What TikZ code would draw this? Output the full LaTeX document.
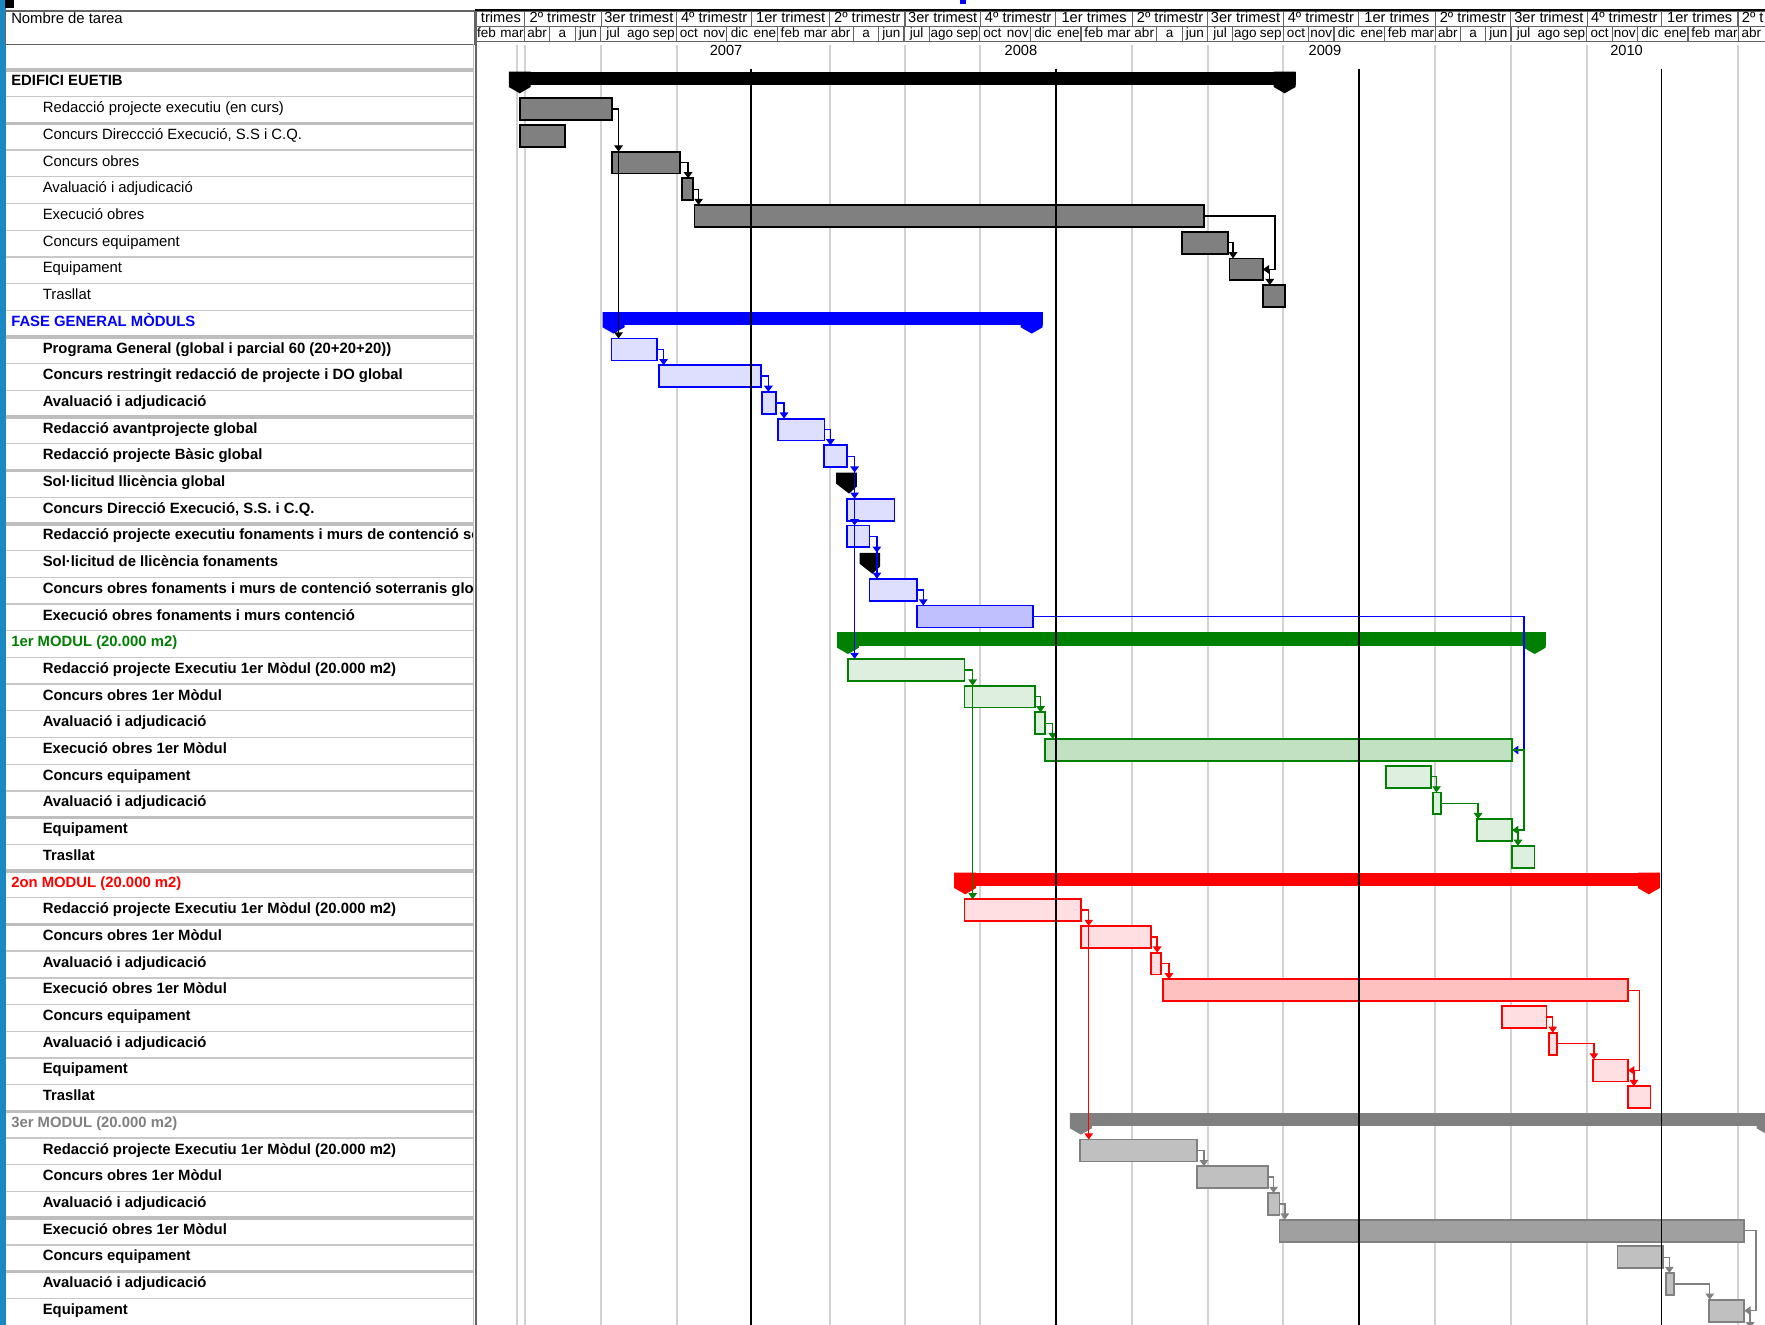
\documentclass[tikz,border=0pt]{standalone}
\usepackage{fontspec}
\setmainfont{Liberation Sans}
\usetikzlibrary{arrows.meta}
\definecolor{stripblue}{RGB}{26,136,194}
\definecolor{gridgray}{RGB}{210,210,210}
\definecolor{rowgray}{RGB}{200,200,200}
\definecolor{rowgraydk}{RGB}{190,190,190}
\definecolor{hdrgray}{RGB}{100,100,100}
\definecolor{cblue}{RGB}{0,0,255}
\definecolor{cgreen}{RGB}{0,128,0}
\definecolor{cred}{RGB}{255,0,0}
\definecolor{cgray}{RGB}{128,128,128}
\definecolor{fblue}{RGB}{222,222,255}
\definecolor{fbluedk}{RGB}{192,192,255}
\definecolor{fgreen}{RGB}{223,239,223}
\definecolor{fgreendk}{RGB}{194,224,194}
\definecolor{fred}{RGB}{255,223,226}
\definecolor{freddk}{RGB}{255,192,192}
\definecolor{fgray}{RGB}{192,192,192}
\definecolor{fgraydk}{RGB}{160,160,160}
\definecolor{fedif}{RGB}{128,128,128}
\tikzset{
  tbar/.style={draw,line width=1.6pt,inner sep=0pt,outer sep=0pt,minimum height=19.5pt},
  be/.style={fill=fedif,draw=black},
  bb/.style={fill=fblue,draw=cblue}, bbd/.style={fill=fbluedk,draw=cblue},
  bg/.style={fill=fgreen,draw=cgreen}, bgd/.style={fill=fgreendk,draw=cgreen},
  br/.style={fill=fred,draw=cred}, brd/.style={fill=freddk,draw=cred},
  bh/.style={fill=fgray,draw=cgray}, bhd/.style={fill=fgraydk,draw=cgray},
  lnk/.style={line width=1.3pt,-{Triangle[width=7.5pt,length=5.5pt]}},
  ttxt/.style={anchor=west,inner sep=0pt,outer sep=0pt,font=\fontsize{13.2}{15}\selectfont,text height=9.4pt,text depth=2.8pt},
  btxt/.style={ttxt,font=\fontsize{13.2}{15}\selectfont\bfseries},
  gtxt/.style={btxt},
  qtxt/.style={inner sep=0pt,outer sep=0pt,font=\fontsize{13}{15}\selectfont,text height=9pt,text depth=2.6pt},
  mtxt/.style={inner sep=0pt,outer sep=0pt,font=\fontsize{12}{14}\selectfont,text height=8.5pt,text depth=2.4pt},
  hdrline/.style={hdrgray,line width=1pt},
}
\newcommand\taskbar[5]{\node[tbar,#5,minimum width={(#3-#2)*1pt},anchor=west] (#1) at (#2,{73.3+23.72*#4}) {};}
\newcommand\sumbar[5]{%
  \pgfmathsetmacro\ycc{73.3+23.72*#4}%
  \node[fill=#5,inner sep=0pt,outer sep=0pt,minimum width={(#3-#2)*1pt},minimum height=11.8pt,anchor=north west] (#1) at (#2,{\ycc-9.6}) {};
  \fill[#5] (#2,{\ycc-9.6}) -- ++(19.5,0) -- ++(0,13.6) -- ++(-9.75,5.6) -- ++(-9.75,-5.6) -- cycle;
  \fill[#5] (#3,{\ycc-9.6}) -- ++(-19.5,0) -- ++(0,13.6) -- ++(9.75,5.6) -- ++(9.75,-5.6) -- cycle;}
\newcommand\milestone[4]{%
  \pgfmathsetmacro\ycc{73.3+23.72*#4}%
  \fill[black] (#2,{\ycc-9.2}) -- (#3,{\ycc-9.2}) -- (#3,{\ycc+3}) -- ({#2+0.62*(#3-#2)},{\ycc+9.4}) -- (#2,{\ycc+0.5}) -- cycle;
  \coordinate (#1) at ({(#2+#3)/2},{\ycc-9.2});}
\newcommand\fslink[4]{\draw[lnk,#1] (#2.east) -- ++(#4,0) coordinate (tmp) -- (tmp |- #3.north);}
\newcommand\fflink[4]{\draw[lnk,#1] (#2.east) -- ++(#4,0) coordinate (tmp) -- (tmp |- #3.east) -- (#3.east);}
\newcommand\rowtext[4]{\node[#3] (t#1) at (#2,{73.1+23.72*#1}) {#4};}
\begin{document}
\begin{tikzpicture}[x=1pt,y=-1pt]
\useasboundingbox (0,0) rectangle (1568,1177);
\clip (0,0) rectangle (1568,1177);
\fill[white] (0,0) rectangle (1568,1177);
\fill[stripblue] (0,0) rectangle (5,1177);
\fill[black] (4,0) rectangle (12,7.5);
\fill[cblue] (853,0) rectangle (858,3.5);

% ---------- task table ----------
\foreach \k in {0,...,46} \draw[rowgray,line width=1.2pt] (5,{62.2+23.72*\k}) -- (421,{62.2+23.72*\k});
\foreach \k in {0,2,10,13,15,17,28,30,32,39,43,45} \draw[rowgraydk,line width=3pt] (5,{62.2+23.72*\k}) -- (421,{62.2+23.72*\k});
\draw[hdrgray,line width=1.3pt] (5,9.8) rectangle (421.5,39.4);
\node[ttxt] (hdrname) at (10,17.8) {Nombre de tarea};
\draw[rowgraydk,line width=1pt] (420.3,39.4) -- (420.3,1177);
\draw[hdrgray,line width=1.6pt] (422.6,8) -- (422.6,1177);

\begin{scope}
\clip (5,40) rectangle (420,1177);
\rowtext{0}{10}{gtxt}{EDIFICI EUETIB}
\rowtext{1}{38}{ttxt}{Redacció projecte executiu (en curs)}
\rowtext{2}{38}{ttxt}{Concurs Direccció Execució, S.S i C.Q.}
\rowtext{3}{38}{ttxt}{Concurs obres}
\rowtext{4}{38}{ttxt}{Avaluació i adjudicació}
\rowtext{5}{38}{ttxt}{Execució obres}
\rowtext{6}{38}{ttxt}{Concurs equipament}
\rowtext{7}{38}{ttxt}{Equipament}
\rowtext{8}{38}{ttxt}{Trasllat}
\rowtext{9}{10}{gtxt,text=cblue}{FASE GENERAL MÒDULS}
\rowtext{10}{38}{btxt}{Programa General (global i parcial 60 (20+20+20))}
\rowtext{11}{38}{btxt}{Concurs restringit redacció de projecte i DO global}
\rowtext{12}{38}{btxt}{Avaluació i adjudicació}
\rowtext{13}{38}{btxt}{Redacció avantprojecte global}
\rowtext{14}{38}{btxt}{Redacció projecte Bàsic global}
\rowtext{15}{38}{btxt}{Sol·licitud llicència global}
\rowtext{16}{38}{btxt}{Concurs Direcció Execució, S.S. i C.Q.}
\rowtext{17}{38}{btxt}{Redacció projecte executiu fonaments i murs de contenció soterranis}
\rowtext{18}{38}{btxt}{Sol·licitud de llicència fonaments}
\rowtext{19}{38}{btxt}{Concurs obres fonaments i murs de contenció soterranis global}
\rowtext{20}{38}{btxt}{Execució obres fonaments i murs contenció}
\rowtext{21}{10}{gtxt,text=cgreen}{1er MODUL (20.000 m2)}
\rowtext{22}{38}{btxt}{Redacció projecte Executiu 1er Mòdul (20.000 m2)}
\rowtext{23}{38}{btxt}{Concurs obres 1er Mòdul}
\rowtext{24}{38}{btxt}{Avaluació i adjudicació}
\rowtext{25}{38}{btxt}{Execució obres 1er Mòdul}
\rowtext{26}{38}{btxt}{Concurs equipament}
\rowtext{27}{38}{btxt}{Avaluació i adjudicació}
\rowtext{28}{38}{btxt}{Equipament}
\rowtext{29}{38}{btxt}{Trasllat}
\rowtext{30}{10}{gtxt,text=cred}{2on MODUL (20.000 m2)}
\rowtext{31}{38}{btxt}{Redacció projecte Executiu 1er Mòdul (20.000 m2)}
\rowtext{32}{38}{btxt}{Concurs obres 1er Mòdul}
\rowtext{33}{38}{btxt}{Avaluació i adjudicació}
\rowtext{34}{38}{btxt}{Execució obres 1er Mòdul}
\rowtext{35}{38}{btxt}{Concurs equipament}
\rowtext{36}{38}{btxt}{Avaluació i adjudicació}
\rowtext{37}{38}{btxt}{Equipament}
\rowtext{38}{38}{btxt}{Trasllat}
\rowtext{39}{10}{gtxt,text=cgray}{3er MODUL (20.000 m2)}
\rowtext{40}{38}{btxt}{Redacció projecte Executiu 1er Mòdul (20.000 m2)}
\rowtext{41}{38}{btxt}{Concurs obres 1er Mòdul}
\rowtext{42}{38}{btxt}{Avaluació i adjudicació}
\rowtext{43}{38}{btxt}{Execució obres 1er Mòdul}
\rowtext{44}{38}{btxt}{Concurs equipament}
\rowtext{45}{38}{btxt}{Avaluació i adjudicació}
\rowtext{46}{38}{btxt}{Equipament}
\end{scope}

% ---------- timescale header ----------
\draw[black,line width=2pt] (422,8.8) -- (1568,8.8);
\draw[hdrline] (423.5,10) -- (1568,10);
\draw[hdrline] (423.5,23.4) -- (1568,23.4);
\draw[hdrline] (423.5,37) -- (1568,37);
\begin{scope}
\clip (423.5,10) rectangle (1568,37);
\foreach \a/\b/\t [count=\i] in {424/466/trimes,466/534/{2º trimestr},534/601/{3er trimest},601/668/{4º trimestr},668/737/{1er trimest},737/804/{2º trimestr},804/871/{3er trimest},871/938/{4º trimestr},938/1006/{1er trimes},1006/1073/{2º trimestr},1073/1140/{3er trimest},1140/1207/{4º trimestr},1207/1275/{1er trimes},1275/1342/{2º trimestr},1342/1410/{3er trimest},1410/1476/{4º trimestr},1476/1544/{1er trimes}}
  {\draw[hdrline] (\b,10) -- (\b,23.4);
   \node[qtxt] (q\i) at ({(\a+\b)/2},16.8) {\t};}
\node[qtxt,anchor=west] (q18) at (1547.5,16.8) {2º t};
\foreach \b in {0,1,2,3,6,8,10,13,14,15,16,18,20,22,25,26,27,28,30,31,32,34,36,37,38,39,42,43,44,46,48}
  \draw[hdrline] ({466+22.47*\b},23.4) -- ({466+22.47*\b},37);
\foreach \mn [count=\i from 0] in {feb,mar,abr,a,jun,jul,ago,sep,oct,nov,dic,ene,feb,mar,abr,a,jun,jul,ago,sep,oct,nov,dic,ene,feb,mar,abr,a,jun,jul,ago,sep,oct,nov,dic,ene,feb,mar,abr,a,jun,jul,ago,sep,oct,nov,dic,ene,feb,mar,abr}
  \node[mtxt] (mo\i) at ({466+22.47*(\i-1.5)},30.3) {\mn};
\end{scope}
\node[qtxt] (y2007) at (645,46) {2007};
\node[qtxt] (y2008) at (907,46) {2008};
\node[qtxt] (y2009) at (1177,46) {2009};
\node[qtxt] (y2010) at (1445,46) {2010};

% ---------- grid ----------
\foreach \x in {459.5,466,534,601,737,804,871,1006,1073,1140,1275,1342,1410,1544}
  \draw[gridgray,line width=1.8pt] (\x,40) -- (\x,1177);

% ---------- EDIFICI EUETIB ----------
\sumbar{s0}{452}{1151}{0}{black}
\taskbar{e1}{462.2}{543.5}{1}{be}
\taskbar{e2}{462.2}{501.7}{2}{be}
\taskbar{e3}{543.5}{604.3}{3}{be}
\taskbar{e4}{605.7}{615.5}{4}{be}
\taskbar{e5}{616.9}{1069.4}{5}{be}
\taskbar{e6}{1049.9}{1090.8}{6}{be}
\taskbar{e7}{1092.2}{1121.9}{7}{be}
\taskbar{e8}{1121.9}{1141.9}{8}{be}

% ---------- FASE GENERAL ----------
\sumbar{s9}{535.3}{926.3}{9}{cblue}
\taskbar{f10}{543.3}{583.6}{10}{bb}
\taskbar{f11}{585.4}{675.9}{11}{bb}
\taskbar{f12}{676.7}{689.7}{12}{bb}
\taskbar{f13}{691.5}{732.4}{13}{bb}
\taskbar{f14}{731.8}{752.5}{14}{bb}
\milestone{m15}{742.7}{761.3}{15}
\taskbar{f16}{752.5}{794.6}{16}{bb}
\taskbar{f17}{752.5}{772.5}{17}{bb}
\milestone{m18}{763.6}{781.9}{18}
\taskbar{f19}{772.5}{814.3}{19}{bb}
\taskbar{f20}{814.3}{917.4}{20}{bbd}

% ---------- 1er MODUL ----------
\sumbar{s21}{743.6}{1373.1}{21}{cgreen}
\taskbar{g22}{753.5}{856.8}{22}{bg}
\taskbar{g23}{856.8}{919.3}{23}{bg}
\taskbar{g24}{919.3}{928.3}{24}{bg}
\taskbar{g25}{928.3}{1343.4}{25}{bgd}
\taskbar{g26}{1231}{1271}{26}{bg}
\taskbar{g27}{1273.2}{1280.1}{27}{bg}
\taskbar{g28}{1312}{1343.4}{28}{bg}
\taskbar{g29}{1343.4}{1363.2}{29}{bg}

% ---------- 2on MODUL ----------
\sumbar{s30}{847.7}{1474.5}{30}{cred}
\taskbar{r31}{856.9}{960.1}{31}{br}
\taskbar{r32}{960.1}{1022.5}{32}{br}
\taskbar{r33}{1022.5}{1031.3}{33}{br}
\taskbar{r34}{1033.4}{1446.4}{34}{brd}
\taskbar{r35}{1334.1}{1373.9}{35}{br}
\taskbar{r36}{1376}{1383.5}{36}{br}
\taskbar{r37}{1415}{1446.4}{37}{br}
\taskbar{r38}{1446.4}{1466.2}{38}{br}

% ---------- 3er MODUL ----------
\sumbar{s39}{950.5}{1580}{39}{cgray}
\taskbar{h40}{959.7}{1063.5}{40}{bh}
\taskbar{h41}{1063.5}{1126.2}{41}{bh}
\taskbar{h42}{1126.2}{1136.6}{42}{bh}
\taskbar{h43}{1136.6}{1549.6}{43}{bhd}
\taskbar{h44}{1437}{1477.7}{44}{bh}
\taskbar{h45}{1479.7}{1486.9}{45}{bh}
\taskbar{h46}{1518}{1549.6}{46}{bh}
\coordinate (h47) at (1554.8,1180);

% ---------- links ----------
\draw[lnk,black] (e1.east) -- ++(6,0) coordinate (ta) -- (ta |- f10.north);
\draw[lnk,black] (ta) -- (ta |- e3.north);
\fslink{black}{e3}{e4}{7}
\fslink{black}{e4}{e5}{5.1}
\fflink{black}{e5}{e7}{63.2}
\fslink{black}{e6}{e7}{4.6}
\fslink{black}{e7}{e8}{6.1}

\fslink{cblue}{f10}{f11}{5.9}
\fslink{cblue}{f11}{f12}{6.7}
\fslink{cblue}{f12}{f13}{6.8}
\fslink{cblue}{f13}{f14}{5.3}
\draw[lnk,cblue] (f14.east) -- ++(6.7,0) coordinate (tb) -- (tb |- g22.north);
\draw[lnk,cblue] (tb) -- (tb |- m15);
\draw[lnk,cblue] (tb) -- (tb |- f16.north);
\draw[lnk,cblue] (tb) -- (tb |- f17.north);
\draw[lnk,cblue] (f17.east) -- ++(6.5,0) coordinate (tc) -- (tc |- f19.north);
\draw[lnk,cblue] (tc) -- (tc |- m18);
\fslink{cblue}{f19}{f20}{5.9}
\fflink{cblue}{f20}{g25}{436.3}

\draw[lnk,cgreen] (g22.east) -- ++(7.3,0) coordinate (td) -- (td |- r31.north);
\draw[lnk,cgreen] (td) -- (td |- g23.north);
\fslink{cgreen}{g23}{g24}{5.1}
\fslink{cgreen}{g24}{g25}{6.9}
\fflink{cgreen}{g25}{g28}{10.3}
\fslink{cgreen}{g26}{g27}{5.2}
\fslink{cgreen}{g27}{g28}{33}
\fslink{cgreen}{g28}{g29}{5.1}

\draw[lnk,cred] (r31.east) -- ++(7.1,0) coordinate (tf) -- (tf |- h40.north);
\draw[lnk,cred] (tf) -- (tf |- r32.north);
\fslink{cred}{r32}{r33}{5.5}
\fslink{cred}{r33}{r34}{7.2}
\fflink{cred}{r34}{r37}{10.1}
\fslink{cred}{r35}{r36}{5.5}
\fslink{cred}{r36}{r37}{32.5}
\fslink{cred}{r37}{r38}{5.1}

\fslink{cgray}{h40}{h41}{6}
\fslink{cgray}{h41}{h42}{5.2}
\fslink{cgray}{h42}{h43}{4.8}
\fflink{cgray}{h43}{h46}{10.4}
\fslink{cgray}{h44}{h45}{5.3}
\fslink{cgray}{h45}{h46}{32}
\draw[lnk,cgray] (h46.east) -- ++(5.2,0) coordinate (tg) -- (tg |- h47);

% ---------- year lines ----------
\foreach \x in {667,938,1207,1476} \draw[black,line width=1.6pt] (\x,61) -- (\x,1177);
\end{tikzpicture}
\end{document}
